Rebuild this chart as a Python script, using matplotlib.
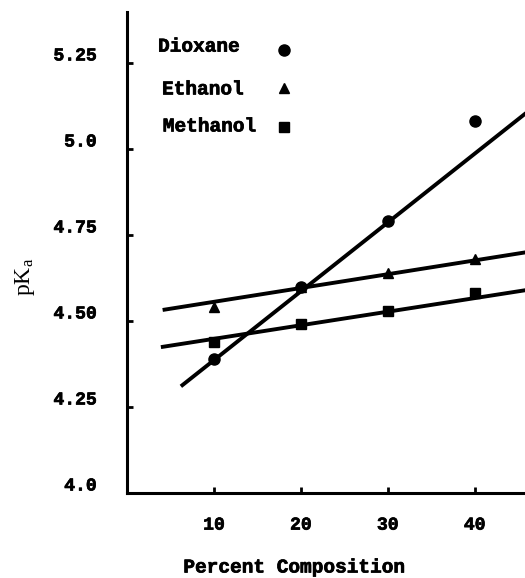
import matplotlib
matplotlib.use("Agg")
import matplotlib.pyplot as plt
import matplotlib.transforms as mtransforms
import matplotlib.patheffects as pe

# percent composition of organic co-solvent
pct = [10, 20, 30, 40]
dioxane_pka = [4.39, 4.60, 4.79, 5.08]
ethanol_pka = [4.54, 4.60, 4.64, 4.68]
methanol_pka = [4.44, 4.49, 4.53, 4.58]

# hand drawn fit lines (start / end)
dioxane_fit_x = [6.2, 46.0]
dioxane_fit_y = [4.31, 5.106]
ethanol_fit_x = [4.1, 46.0]
ethanol_fit_y = [4.532, 4.70]
methanol_fit_x = [3.9, 46.0]
methanol_fit_y = [4.424, 4.59]

x_ticks = [10, 20, 30, 40]
y_ticks = [4.0, 4.25, 4.50, 4.75, 5.0, 5.25]
y_ticklabels = ["4.0", "4.25", "4.50", "4.75", "5.0", "5.25"]

MONO = "Liberation Mono"
HEAVY = [pe.withStroke(linewidth=0.5, foreground="black")]
plt.rcParams["mathtext.fontset"] = "custom"
plt.rcParams["mathtext.rm"] = "Liberation Serif"

fig = plt.figure(figsize=(5.25, 5.78), dpi=100)
ax = fig.add_axes([127 / 525, 85 / 578, 398 / 525, 481 / 578])
ax.set_xlim(0, 45.8)
ax.set_ylim(4.0, 5.398)

lw = 2.8
ax.plot(dioxane_fit_x, dioxane_fit_y, color="black", lw=lw, solid_capstyle="butt")
ax.plot(ethanol_fit_x, ethanol_fit_y, color="black", lw=lw, solid_capstyle="butt")
ax.plot(methanol_fit_x, methanol_fit_y, color="black", lw=lw, solid_capstyle="butt")

ax.plot(pct, dioxane_pka, "o", color="black", ms=8, zorder=3)
ax.plot(pct, ethanol_pka, "^", color="black", ms=7, zorder=3)
ax.plot(pct, methanol_pka, "s", color="black", ms=6.5, zorder=3)

# legend drawn by hand: name then marker
legend = [("Dioxane", "o", 8, 0.078, 0.927, 0.921),
          ("Ethanol", "^", 7, 0.088, 0.838, 0.842),
          ("Methanol", "s", 6.5, 0.090, 0.761, 0.761)]
for name, mk, ms, tx, ty, my in legend:
    ax.text(tx, ty, name, transform=ax.transAxes, family=MONO,
            fontweight="bold", fontsize=14, va="center", ha="left",
            path_effects=HEAVY)
    ax.plot([0.395], [my], mk, color="black", ms=ms, transform=ax.transAxes,
            clip_on=False)

for side in ["top", "right"]:
    ax.spines[side].set_visible(False)
for side in ["left", "bottom"]:
    ax.spines[side].set_linewidth(2.2)

ax.set_xticks(x_ticks)
ax.set_xticklabels([str(v) for v in x_ticks], family=MONO,
                   fontweight="bold", fontsize=13, path_effects=HEAVY)
ax.set_yticks(y_ticks)
ax.set_yticklabels(y_ticklabels, family=MONO, fontweight="bold", fontsize=13,
                   path_effects=HEAVY)
ax.tick_params(axis="both", direction="in", length=4, width=2)
ax.tick_params(axis="y", pad=22)
ax.tick_params(axis="x", pad=17)

# labels on the scan sit a little above their ticks
shift = mtransforms.ScaledTranslation(0, 9 / 100, fig.dpi_scale_trans)
for lab in ax.get_yticklabels():
    lab.set_transform(lab.get_transform() + shift)

fig.text(295 / 525, 1 - 568 / 578, "Percent Composition", family=MONO,
         fontweight="bold", fontsize=14, ha="center", va="center",
         path_effects=HEAVY)
fig.text(25 / 525, 1 - 277 / 578, r"$\mathrm{pK_a}$", fontsize=17,
         rotation=90, ha="center", va="center")

fig.savefig("out.png", dpi=100)
